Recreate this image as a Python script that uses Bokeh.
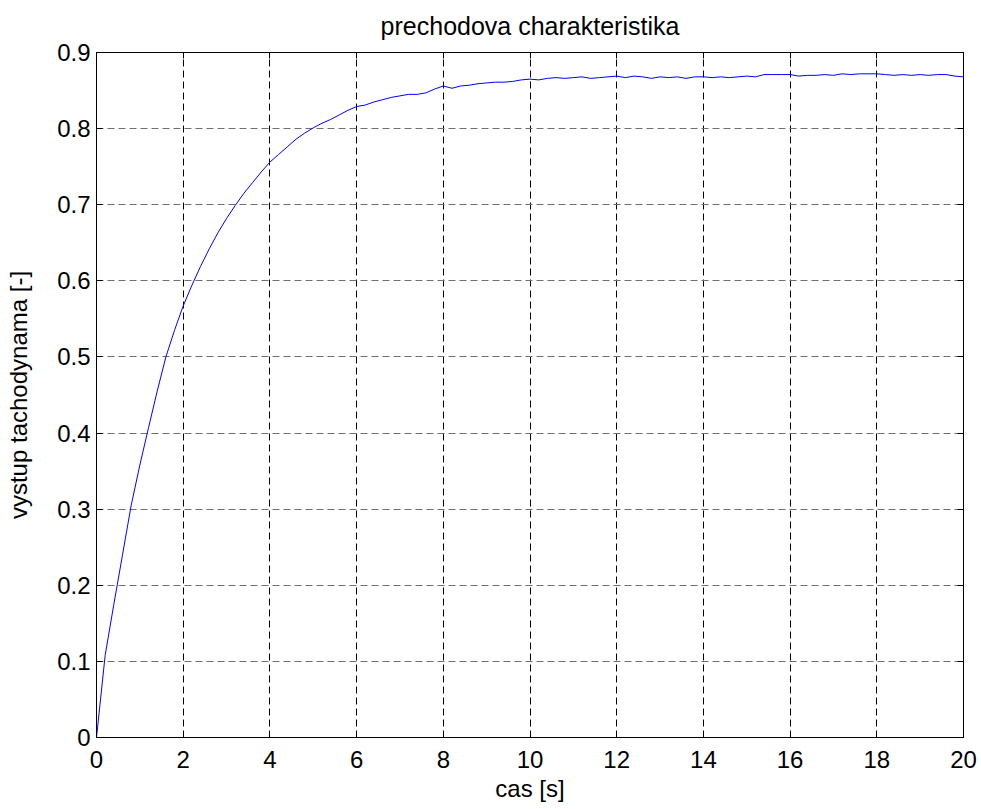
from bokeh.plotting import figure
from bokeh.models import (Range1d, FixedTicker, LinearAxis, CustomJSTickFormatter,
                          CustomLabelingPolicy)
from bokeh.embed import file_html
from bokeh.resources import INLINE

# Data
t = [0.0, 0.2, 0.4, 0.6, 0.8, 1.0, 1.2, 1.4, 1.6, 1.8,
     2.0, 2.2, 2.4, 2.6, 2.8, 3.0, 3.2, 3.4, 3.6, 3.8,
     4.0, 4.2, 4.4, 4.6, 4.8, 5.0, 5.2, 5.4, 5.6, 5.8,
     6.0, 6.2, 6.4, 6.6, 6.8, 7.0, 7.2, 7.4, 7.6, 7.8,
     8.0, 8.2, 8.4, 8.6, 8.8, 9.0, 9.2, 9.4, 9.6, 9.8,
     10.0, 10.2, 10.4, 10.6, 10.8, 11.0, 11.2, 11.4, 11.6, 11.8,
     12.0, 12.2, 12.4, 12.6, 12.8, 13.0, 13.2, 13.4, 13.6, 13.8,
     14.0, 14.2, 14.4, 14.6, 14.8, 15.0, 15.2, 15.4, 15.6, 15.8,
     16.0, 16.2, 16.4, 16.6, 16.8, 17.0, 17.2, 17.4, 17.6, 17.8,
     18.0, 18.2, 18.4, 18.6, 18.8, 19.0, 19.2, 19.4, 19.6, 19.8, 20.0]
y = [0.0, 0.108, 0.175, 0.24, 0.305, 0.358, 0.407, 0.455, 0.5, 0.535,
     0.567, 0.594, 0.619, 0.642, 0.663, 0.682, 0.699, 0.715, 0.729, 0.743,
     0.756, 0.766, 0.776, 0.786, 0.794, 0.801, 0.807, 0.812, 0.818, 0.824,
     0.829, 0.831, 0.835, 0.838, 0.841, 0.843, 0.845, 0.845, 0.847, 0.852,
     0.856, 0.853, 0.856, 0.857, 0.859, 0.86, 0.861, 0.861, 0.862, 0.864,
     0.865, 0.864, 0.866, 0.867, 0.866, 0.867, 0.868, 0.866, 0.867, 0.868,
     0.869, 0.867, 0.869, 0.868, 0.866, 0.868, 0.867, 0.868, 0.866, 0.868,
     0.868, 0.867, 0.868, 0.867, 0.868, 0.869, 0.868, 0.871, 0.871, 0.871,
     0.871, 0.869, 0.870, 0.870, 0.871, 0.870, 0.872, 0.871, 0.872, 0.872,
     0.872, 0.871, 0.870, 0.871, 0.870, 0.871, 0.870, 0.871, 0.871, 0.869, 0.868]

x_ticks = [0, 2, 4, 6, 8, 10, 12, 14, 16, 18, 20]
y_ticks = [0, 0.1, 0.2, 0.3, 0.4, 0.5, 0.6, 0.7, 0.8, 0.9]

title_text = "prechodova charakteristika"
x_label = "cas [s]"
y_label = "vystup tachodynama [-]"

FONT = "Liberation Sans"
FS = "24px"

p = figure(width=981, height=804, output_backend="svg", toolbar_location=None,
           x_range=Range1d(0, 20), y_range=Range1d(0, 0.9),
           min_border_left=96, min_border_right=0, min_border_top=52, min_border_bottom=64)

p.title.text = title_text
p.title.align = "center"
p.title.text_font = FONT
p.title.text_font_size = "25px"
p.title.text_font_style = "normal"
p.title.text_color = "black"
p.title.offset = 0
p.title.standoff = 3

p.outline_line_color = "black"
p.outline_line_width = 1
p.outline_line_alpha = 1

fmt = CustomJSTickFormatter(code="return String(Math.round(tick*10)/10);")

for ax in p.xaxis:
    ax.ticker = FixedTicker(ticks=x_ticks)
for ax in p.yaxis:
    ax.ticker = FixedTicker(ticks=y_ticks)
    ax.formatter = fmt

for ax in list(p.xaxis) + list(p.yaxis):
    ax.major_tick_in = 6
    ax.major_tick_out = 0
    ax.minor_tick_in = 0
    ax.minor_tick_out = 0
    ax.axis_line_color = "black"
    ax.major_tick_line_color = "black"
    ax.major_label_text_font = FONT
    ax.major_label_text_font_size = FS
    ax.major_label_text_color = "black"
    ax.axis_label_text_font = FONT
    ax.axis_label_text_font_size = FS
    ax.axis_label_text_font_style = "normal"
    ax.axis_label_text_color = "black"

p.xaxis.axis_label = x_label
p.yaxis.axis_label = y_label
p.xaxis.major_label_standoff = 13
p.xaxis.axis_label_standoff = 4
p.yaxis.major_label_standoff = 6
p.yaxis.axis_label_standoff = 22


def hide_all():
    return CustomLabelingPolicy(code="""
    for (const i of Array.from(indices)) indices.unset(i)
    return indices
""")


# mirrored ticks on top and right
top = LinearAxis(ticker=FixedTicker(ticks=x_ticks), major_tick_in=6, major_tick_out=0,
                 minor_tick_in=0, minor_tick_out=0, major_label_policy=hide_all(),
                 major_label_standoff=0,
                 axis_line_color="black", major_tick_line_color="black")
right = LinearAxis(ticker=FixedTicker(ticks=y_ticks), major_tick_in=6, major_tick_out=0,
                   minor_tick_in=0, minor_tick_out=0, major_label_policy=hide_all(),
                   major_label_standoff=0,
                   axis_line_color="black", major_tick_line_color="black")
p.add_layout(top, "above")
p.add_layout(right, "right")

p.xgrid.ticker = FixedTicker(ticks=x_ticks)
p.ygrid.ticker = FixedTicker(ticks=y_ticks)
p.xgrid.grid_line_color = "black"
p.xgrid.grid_line_dash = "7 4"
p.xgrid.grid_line_width = 1
p.ygrid.grid_line_color = "#707070"
p.ygrid.grid_line_dash = "7 4"
p.ygrid.grid_line_width = 1

p.line(t, y, line_color="#0000FF", line_width=1)

open("out.html", "w").write(file_html(p, INLINE))
